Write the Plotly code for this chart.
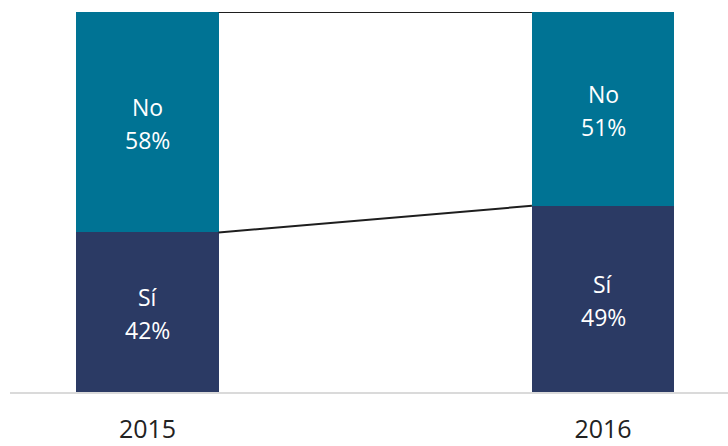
import plotly.graph_objects as go

years = ["2015", "2016"]
si_pct = [42, 49]
no_pct = [58, 51]
si_label = "Sí"
no_label = "No"

color_no = "#007394"
color_si = "#2b3a64"
bar_w = 0.312
x_pos = [0, 1]

fig = go.Figure()

fig.add_trace(go.Bar(x=x_pos, y=si_pct, width=bar_w, marker=dict(color=color_si, line=dict(width=0)),
                     hoverinfo="skip", showlegend=False))
fig.add_trace(go.Bar(x=x_pos, y=no_pct, width=bar_w, marker=dict(color=color_no, line=dict(width=0)),
                     hoverinfo="skip", showlegend=False))

# connector lines between the two bars
totals = [s + n for s, n in zip(si_pct, no_pct)]
x_link = [x_pos[0] + bar_w / 2, x_pos[1] - bar_w / 2]
fig.add_trace(go.Scatter(x=x_link, y=totals, mode="lines", line=dict(color="#1e1e1e", width=2),
                         cliponaxis=False, hoverinfo="skip", showlegend=False))
fig.add_trace(go.Scatter(x=x_link, y=si_pct, mode="lines", line=dict(color="#1e1e1e", width=2),
                         cliponaxis=False, hoverinfo="skip", showlegend=False))

# segment labels: category name above, percentage below
font_lbl = dict(family="Open Sans", size=23, color="white")
for xi, s, n in zip(x_pos, si_pct, no_pct):
    for name, lo, val in ((si_label, 0, s), (no_label, s, n)):
        mid = lo + val / 2
        fig.add_annotation(x=xi, y=mid, text=name, showarrow=False, font=font_lbl, yshift=15)
        fig.add_annotation(x=xi, y=mid, text=f"{val}%", showarrow=False, font=font_lbl, yshift=-18)

fig.update_layout(
    width=728, height=446,
    margin=dict(l=10, r=0, t=12, b=54),
    paper_bgcolor="white", plot_bgcolor="white",
    barmode="stack", bargap=0,
    xaxis=dict(range=[-0.3019, 1.2744], tickvals=x_pos, ticktext=years, showgrid=False, zeroline=False,
               showline=True, linecolor="#dadada", linewidth=2, ticks="", ticklabelstandoff=14,
               automargin=False,
               tickfont=dict(family="Open Sans", size=25, color="#222222")),
    yaxis=dict(range=[0, 100], visible=False, showgrid=False, zeroline=False, automargin=False),
)

fig.write_html("out.html")
